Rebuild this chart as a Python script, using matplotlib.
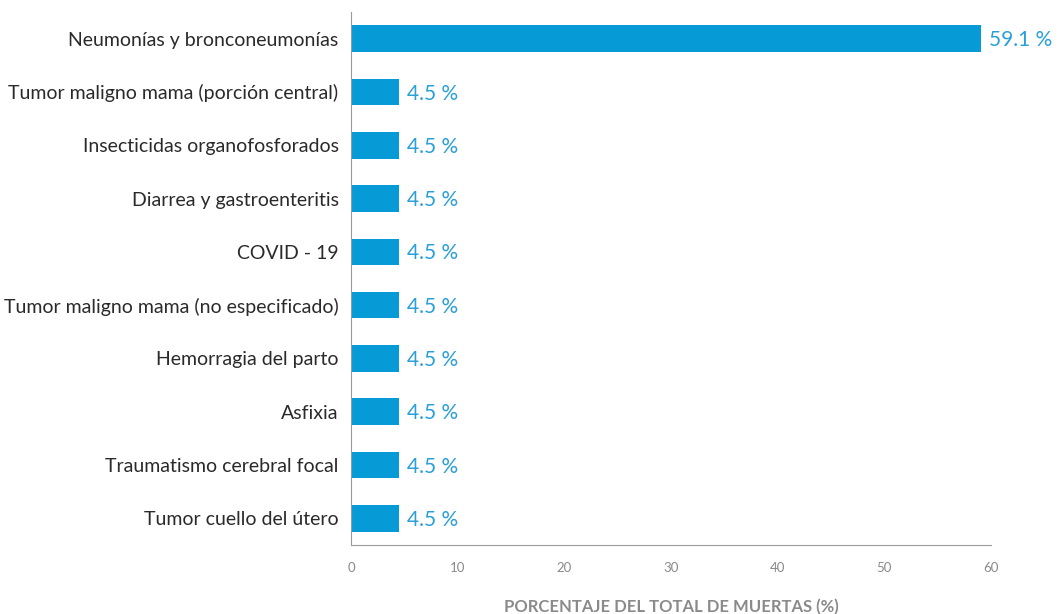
import matplotlib
matplotlib.use("Agg")
import matplotlib.pyplot as plt

plt.rcParams['font.family'] = ['Lato', 'DejaVu Sans']

causes = [
    "Neumonías y bronconeumonías",
    "Tumor maligno mama (porción central)",
    "Insecticidas organofosforados",
    "Diarrea y gastroenteritis",
    "COVID - 19",
    "Tumor maligno mama (no especificado)",
    "Hemorragia del parto",
    "Asfixia",
    "Traumatismo cerebral focal",
    "Tumor cuello del útero",
]
percent = [59.1, 4.5, 4.5, 4.5, 4.5, 4.5, 4.5, 4.5, 4.5, 4.5]
x_ticks = [0, 10, 20, 30, 40, 50, 60]

bar_color = "#069bd7"
label_color = "#2a9fd8"
grey = "#8a8a8a"

fig = plt.figure(figsize=(10.58, 6.14), dpi=100)
ax = fig.add_axes([0.3318, 0.1124, 0.6049, 0.8681])

pos = list(range(len(causes)))
ax.barh(pos, percent, height=0.5, color=bar_color)

for y, v in zip(pos, percent):
    ax.text(v + 0.75, y + 0.03, f"{v} %", va="center", ha="left",
            fontsize=15, color=label_color)

ax.set_ylim(9.5, -0.5)
ax.set_xlim(0, 60)
ax.set_yticks(pos)
ax.set_yticklabels(causes, fontsize=14, color="#2a2a2a")
ax.set_xticks(x_ticks)
ax.set_xticklabels([str(t) for t in x_ticks], fontsize=9.5, color=grey)
ax.tick_params(axis="both", length=0)
ax.tick_params(axis="x", pad=12)
ax.tick_params(axis="y", pad=9)

for side in ("top", "right"):
    ax.spines[side].set_visible(False)
ax.spines["left"].set_color("#9a9a9a")
ax.spines["bottom"].set_color("#9a9a9a")

ax.set_xlabel("PORCENTAJE DEL TOTAL DE MUERTAS (%)", fontsize=12,
              fontweight="bold", color=grey, labelpad=18)

fig.savefig("out.png", dpi=100)
